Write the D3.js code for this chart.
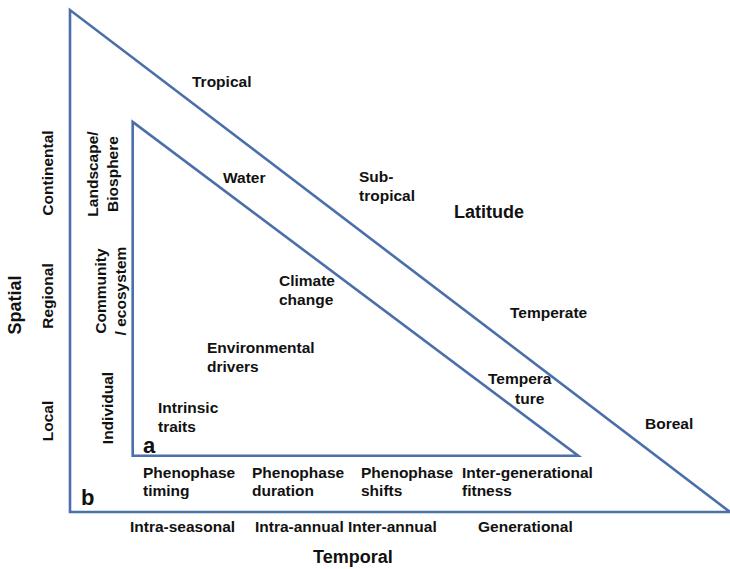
<!DOCTYPE html>
<html>
<head>
<meta charset="utf-8">
<script src="https://cdn.jsdelivr.net/npm/d3@7"></script>
<style>
  body { margin: 0; background: #fff; }
  text { font-family: "Liberation Sans", Arial, sans-serif; fill: #111; }
</style>
</head>
<body>
<div id="chart"></div>
<script>
// data
const temporalScales = ["Intra-seasonal", "Intra-annual", "Inter-annual", "Generational"];
const phenoResponses = [["Phenophase", "timing"], ["Phenophase", "duration"], ["Phenophase", "shifts"], ["Inter-generational", "fitness"]];
const spatialScales = ["Local", "Regional", "Continental"];
const organisationLevels = [["Individual"], ["Community", "/ ecosystem"], ["Landscape/", "Biosphere"]];
const latitudeZones = [["Tropical"], ["Sub-", "tropical"], ["Temperate"], ["Boreal"]];
const drivers = [["Water"], ["Climate", "change"], ["Environmental", "drivers"], ["Tempera", "ture"], ["Intrinsic", "traits"]];
// triangle corners in (temporal, spatial) units, 0-100
const outerTriangle = [[0, 0], [0, 100], [100, 0]];
const innerTriangle = [[9.5, 11.2], [9.5, 77.7], [77, 11.2]];

const width = 730, height = 569;
const lineColor = "#4a6fab";

const svg = d3.select("#chart").append("svg")
  .attr("width", width)
  .attr("height", height);

const x = d3.scaleLinear().domain([0, 100]).range([70, 730]);
const y = d3.scaleLinear().domain([0, 100]).range([512, 10]);

const line = d3.line().x(d => x(d[0])).y(d => y(d[1]));

svg.selectAll("path.tri")
  .data([outerTriangle, innerTriangle])
  .enter()
  .append("path")
  .attr("class", "tri")
  .attr("d", d => line(d) + "Z")
  .attr("fill", "none")
  .attr("stroke", lineColor)
  .attr("stroke-width", 2.6)
  .attr("stroke-linejoin", "miter");

// label layout (pixels)
const lh = 19;
function addText(lines, px, py, opts = {}) {
  const t = svg.append("text")
    .attr("transform", `translate(${px},${py})` + (opts.rotate ? " rotate(-90)" : ""))
    .attr("text-anchor", opts.anchor || "start")
    .attr("dominant-baseline", "central")
    .style("font-size", (opts.size || 15.5) + "px")
    .style("font-weight", "bold");
  lines.forEach((s, i) => {
    t.append("tspan")
      .attr("x", opts.dx ? opts.dx[i] : 0)
      .attr("y", i * (opts.lh || lh))
      .text(s);
  });
}

// bottom: temporal scales and phenophase responses
const temporalX = [130, 255, 348, 478];
temporalScales.forEach((s, i) => addText([s], temporalX[i], 526));
const phenoX = [143, 252, 361, 462];
phenoResponses.forEach((s, i) => addText(s, phenoX[i], 472, { lh: 18 }));

// left: spatial scales and organisation levels
const spatialY = [421, 296, 173];
spatialScales.forEach((s, i) => addText([s], 47, spatialY[i], { rotate: true, anchor: "middle" }));
const orgPos = [[107, 408], [100, 291], [92, 174]];
organisationLevels.forEach((s, i) => addText(s, orgPos[i][0], orgPos[i][1], { rotate: true, anchor: "middle", lh: 20 }));

// latitude zones along the outer edge
const latPos = [[192, 81], [359, 176], [510, 312], [645, 423]];
latitudeZones.forEach((s, i) => addText(s, latPos[i][0], latPos[i][1]));

// drivers inside the inner triangle
const driverPos = [[223, 177], [279, 280], [207, 347], [488, 378], [158, 407]];
drivers.forEach((s, i) => addText(s, driverPos[i][0], driverPos[i][1],
  s[0] === "Tempera" ? { dx: [0, 27], lh: 20 } : {}));

// axis titles
addText(["Latitude"], 454, 212, { size: 18 });
addText(["Temporal"], 313, 557, { size: 18 });
addText(["Spatial"], 15, 305, { size: 18, rotate: true, anchor: "middle" });

// panel letters
addText(["a"], 143, 445, { size: 22 });
addText(["b"], 81, 497, { size: 22 });
</script>
</body>
</html>
